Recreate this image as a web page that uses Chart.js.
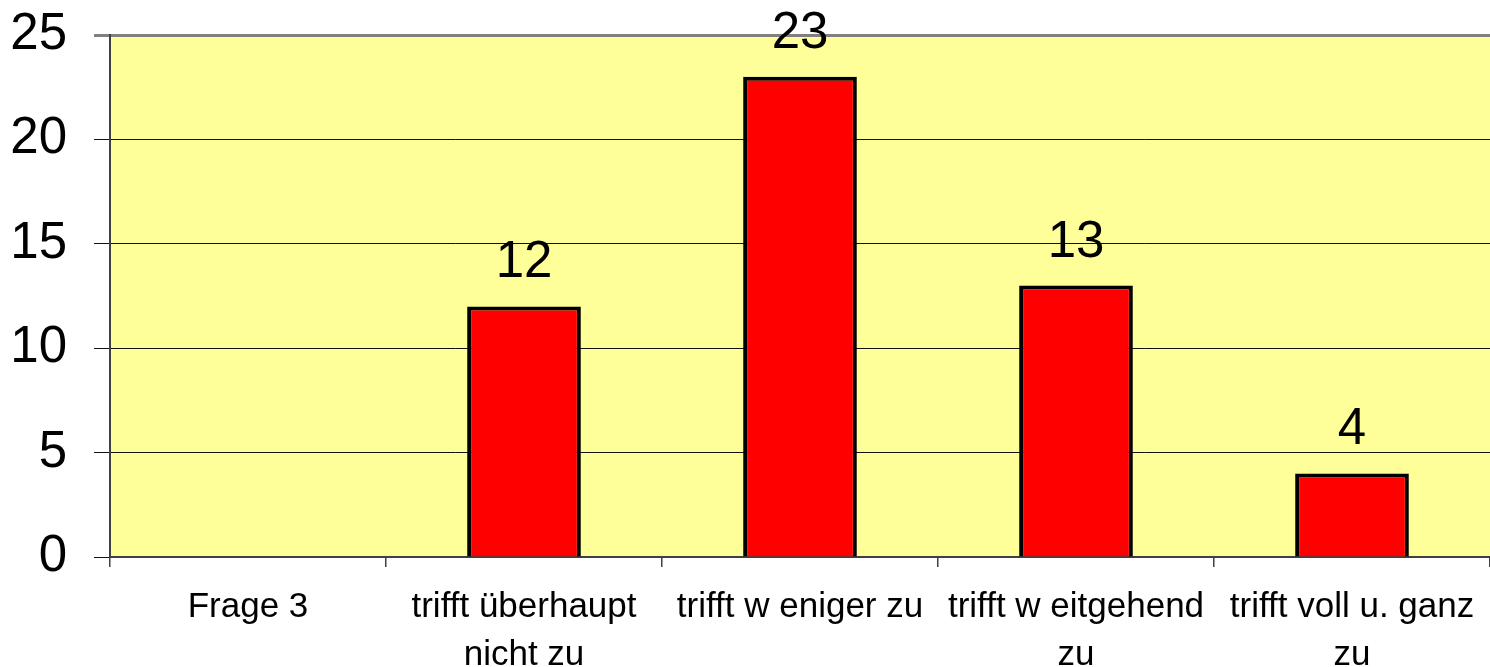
<!DOCTYPE html>
<html>
<head>
<meta charset="utf-8">
<script src="https://cdn.jsdelivr.net/npm/chart.js@4/dist/chart.umd.min.js"></script>
<style>
    html, body { margin: 0; padding: 0; background: #fff; }
    #wrap { width: 1490px; height: 667px; }
</style>
</head>
<body>
<div id="wrap"><canvas id="grafica" width="1490" height="667"></canvas></div>
<script>
    const kategorien = [
        'Frage 3',
        ['trifft überhaupt', 'nicht zu'],
        'trifft w eniger zu',
        ['trifft w eitgehend', 'zu'],
        ['trifft voll u. ganz', 'zu']
    ];
    const werte = [null, 12, 23, 13, 4];
    const yTicks = [0, 5, 10, 15, 20, 25];

    const schrift = 'Liberation Sans, Arial, sans-serif';

    // gelber Hintergrund der Zeichenflaeche
    const hintergrund = {
        id: 'hintergrund',
        beforeDraw(chart) {
            const { ctx, chartArea: a } = chart;
            ctx.save();
            ctx.fillStyle = '#FFFF99';
            ctx.fillRect(a.left, a.top, a.right - a.left, a.bottom - a.top);
            ctx.restore();
        }
    };

    // Werte ueber den Balken
    const beschriftung = {
        id: 'beschriftung',
        afterDraw(chart) {
            const ctx = chart.ctx;
            const meta = chart.getDatasetMeta(0);
            ctx.save();
            ctx.font = '51px ' + schrift;
            ctx.fillStyle = '#000';
            ctx.textAlign = 'center';
            ctx.textBaseline = 'alphabetic';
            meta.data.forEach((bar, i) => {
                if (werte[i] === null) return;
                ctx.fillText(String(werte[i]), bar.x, bar.y - 29);
            });
            ctx.restore();
        }
    };

    new Chart(document.getElementById('grafica'), {
        type: 'bar',
        data: {
            labels: kategorien,
            datasets: [{
                data: werte,
                backgroundColor: '#FF0000',
                borderColor: '#000000',
                borderWidth: 4,
                categoryPercentage: 1,
                barPercentage: 0.412
            }]
        },
        options: {
            responsive: false,
            animation: false,
            layout: { padding: { top: 35, right: 0, left: 0, bottom: 0 } },
            plugins: {
                legend: { display: false },
                tooltip: { enabled: false }
            },
            scales: {
                x: {
                    offset: true,
                    grid: {
                        offset: true,
                        drawOnChartArea: false,
                        drawTicks: true,
                        tickLength: 10,
                        color: '#404040',
                        lineWidth: 1.5
                    },
                    border: { color: '#404040', width: 2 },
                    ticks: {
                        color: '#000',
                        font: { family: schrift, size: 35, lineHeight: 1.38 },
                        padding: 16,
                        maxRotation: 0,
                        autoSkip: false
                    },
                    afterFit(scale) { scale.height = 110; scale.paddingRight = 0; scale.paddingLeft = 0; }
                },
                y: {
                    min: 0,
                    max: 25,
                    afterBuildTicks(scale) { scale.ticks = yTicks.map(v => ({ value: v })); },
                    grid: {
                        tickLength: 16,
                        color: ctx => ctx.tick && ctx.tick.value === 25 ? '#808080' : '#111111',
                        lineWidth: ctx => ctx.tick && ctx.tick.value === 25 ? 3 : 1
                    },
                    border: { color: '#404040', width: 2 },
                    ticks: {
                        color: '#000',
                        font: { family: schrift, size: 51 },
                        padding: 27
                    },
                    afterFit(scale) { scale.width = 110; scale.paddingTop = 0; scale.paddingBottom = 0; }
                }
            }
        },
        plugins: [hintergrund, beschriftung]
    });
</script>
</body>
</html>
